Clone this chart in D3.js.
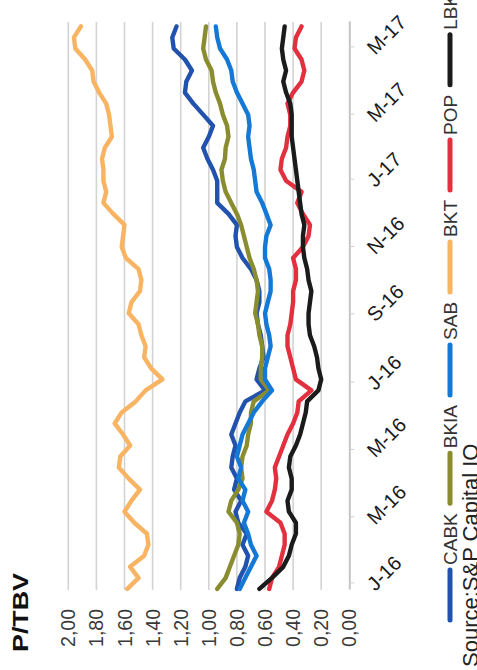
<!DOCTYPE html>
<html>
<head>
<meta charset="utf-8">
<script src="https://cdn.jsdelivr.net/npm/d3@7"></script>
<style>
    body { margin: 0; background: #fff; }
    svg { display: block; }
    text { font-family: "Liberation Sans", Arial, sans-serif; }
</style>
</head>
<body>
<script>
// Sample dates (about every 10 days), Dec 2015 - May 2017
var dates = ["2015-12-27", "2016-01-06", "2016-01-16", "2016-01-26", "2016-02-05", "2016-02-15", "2016-02-25",
    "2016-03-06", "2016-03-16", "2016-03-26", "2016-04-05", "2016-04-15", "2016-04-25", "2016-05-05", "2016-05-15",
    "2016-05-25", "2016-06-04", "2016-06-14", "2016-06-24", "2016-07-04", "2016-07-14", "2016-07-24", "2016-08-03",
    "2016-08-13", "2016-08-23", "2016-09-02", "2016-09-12", "2016-09-22", "2016-10-02", "2016-10-12", "2016-10-22",
    "2016-11-01", "2016-11-11", "2016-11-21", "2016-12-01", "2016-12-11", "2016-12-21", "2016-12-31", "2017-01-10",
    "2017-01-20", "2017-01-30", "2017-02-09", "2017-02-19", "2017-03-01", "2017-03-11", "2017-03-21", "2017-03-31",
    "2017-04-10", "2017-04-20", "2017-04-30", "2017-05-10", "2017-05-20"];

// P/TBV per bank
var cabk = [0.80, 0.78, 0.74, 0.72, 0.76, 0.73, 0.79, 0.81, 0.77, 0.82, 0.80, 0.84, 0.83, 0.81, 0.84, 0.81, 0.78,
    0.74, 0.60, 0.66, 0.64, 0.61, 0.62, 0.63, 0.65, 0.66, 0.64, 0.64, 0.66, 0.70, 0.76, 0.80, 0.81, 0.80, 0.86,
    0.94, 0.94, 0.94, 0.97, 1.01, 1.04, 1.00, 0.97, 1.04, 1.11, 1.17, 1.16, 1.12, 1.17, 1.25, 1.26, 1.23];
var bkia = [0.94, 0.88, 0.85, 0.82, 0.79, 0.78, 0.80, 0.86, 0.84, 0.79, 0.76, 0.77, 0.76, 0.73, 0.72, 0.70, 0.70,
    0.68, 0.57, 0.63, 0.63, 0.62, 0.62, 0.64, 0.65, 0.67, 0.66, 0.65, 0.66, 0.68, 0.71, 0.73, 0.75, 0.77, 0.80,
    0.84, 0.88, 0.90, 0.91, 0.885, 0.88, 0.86, 0.87, 0.90, 0.92, 0.95, 0.97, 0.98, 1.02, 1.04, 1.03, 1.02];
var sab = [0.78, 0.74, 0.70, 0.66, 0.70, 0.72, 0.75, 0.72, 0.76, 0.74, 0.79, 0.77, 0.80, 0.78, 0.76, 0.72, 0.68,
    0.62, 0.55, 0.60, 0.60, 0.58, 0.56, 0.57, 0.59, 0.60, 0.58, 0.56, 0.56, 0.57, 0.60, 0.60, 0.59, 0.56, 0.59,
    0.62, 0.66, 0.67, 0.68, 0.70, 0.71, 0.72, 0.71, 0.72, 0.76, 0.80, 0.83, 0.84, 0.87, 0.92, 0.94, 0.95];
var bkt = [1.58, 1.50, 1.56, 1.46, 1.43, 1.44, 1.53, 1.60, 1.55, 1.49, 1.57, 1.64, 1.63, 1.56, 1.61, 1.67, 1.62,
    1.52, 1.45, 1.33, 1.41, 1.46, 1.45, 1.48, 1.50, 1.57, 1.55, 1.49, 1.48, 1.50, 1.59, 1.62, 1.61, 1.60, 1.68,
    1.75, 1.73, 1.75, 1.75, 1.76, 1.74, 1.69, 1.70, 1.71, 1.73, 1.78, 1.82, 1.83, 1.88, 1.95, 1.96, 1.91];
var pop = [0.57, 0.55, 0.50, 0.48, 0.46, 0.46, 0.49, 0.59, 0.55, 0.53, 0.52, 0.53, 0.50, 0.47, 0.44, 0.40, 0.37,
    0.36, 0.27, 0.38, 0.40, 0.42, 0.44, 0.44, 0.42, 0.41, 0.40, 0.40, 0.38, 0.38, 0.40, 0.33, 0.29, 0.28, 0.33,
    0.37, 0.34, 0.45, 0.49, 0.48, 0.45, 0.44, 0.42, 0.42, 0.44, 0.40, 0.34, 0.32, 0.34, 0.39, 0.38, 0.34];
var lbk = [0.64, 0.55, 0.47, 0.43, 0.41, 0.38, 0.38, 0.43, 0.44, 0.41, 0.41, 0.43, 0.42, 0.38, 0.35, 0.33, 0.31,
    0.30, 0.22, 0.20, 0.22, 0.23, 0.25, 0.28, 0.29, 0.29, 0.28, 0.27, 0.29, 0.30, 0.32, 0.33, 0.33, 0.32, 0.34,
    0.35, 0.36, 0.37, 0.38, 0.39, 0.40, 0.41, 0.41, 0.41, 0.42, 0.45, 0.47, 0.45, 0.47, 0.48, 0.47, 0.46];

var seriesNames = ["CABK", "BKIA", "SAB", "BKT", "POP", "LBK"];
var seriesValues = [cabk, bkia, sab, bkt, pop, lbk];
var seriesColors = ["#2152ad", "#8a8d2f", "#1479d6", "#f8b462", "#e2303e", "#1b1b1b"];

var valueTicks = [0, 0.2, 0.4, 0.6, 0.8, 1.0, 1.2, 1.4, 1.6, 1.8, 2.0];

// The chart is drawn in a normal 670 x 477 frame and then turned on its side
var W = 670, H = 477;
var svg = d3.select("body").append("svg")
    .attr("width", H)
    .attr("height", W);
var g = svg.append("g")
    .attr("transform", "translate(0," + W + ") rotate(-90)");

var parse = d3.timeParse("%Y-%m-%d");
var x = d3.scaleTime()
    .domain([parse("2015-12-26"), parse("2017-05-24")])
    .range([80, 648]);
var y = d3.scaleLinear()
    .domain([0, 2])
    .range([349.3, 68.3]);

var comma = d3.formatLocale({decimal: ",", thousands: ".", grouping: [3], currency: ["", "€"]}).format(".2f");

// gridlines
g.append("g").selectAll("line")
    .data(valueTicks.filter(function (d) { return d > 0; }))
    .enter().append("line")
    .attr("x1", x.range()[0])
    .attr("x2", x.range()[1])
    .attr("y1", function (d) { return y(d); })
    .attr("y2", function (d) { return y(d); })
    .attr("stroke", "#d3d3d3")
    .attr("stroke-width", 1.6);

// value labels
g.append("g").selectAll("text")
    .data(valueTicks)
    .enter().append("text")
    .attr("x", 61)
    .attr("y", function (d) { return y(d); })
    .attr("dy", "0.36em")
    .attr("text-anchor", "end")
    .attr("font-size", 19.5)
    .attr("fill", "#3a3a3a")
    .text(function (d) { return comma(d); });

// time axis
var monthTicks = d3.timeMonth.every(2).range(parse("2016-01-01"), parse("2017-06-01"));
var xAxis = d3.axisBottom(x)
    .tickValues(monthTicks)
    .tickSize(5)
    .tickSizeOuter(0)
    .tickFormat(function (d) {
        return d3.timeFormat("%b")(d).charAt(0) + "-" + d3.timeFormat("%y")(d);
    });
var axisG = g.append("g")
    .attr("transform", "translate(0," + y(0) + ")")
    .call(xAxis);
axisG.select(".domain").attr("stroke", "#c4c4c4").attr("stroke-width", 2);
axisG.selectAll(".tick line").attr("stroke", "#cfcfcf").attr("stroke-width", 1);
axisG.selectAll(".tick text")
    .attr("x", 0)
    .attr("y", 0)
    .attr("dy", 0)
    .attr("transform", "translate(-9,26) rotate(45)")
    .attr("text-anchor", "start")
    .attr("font-size", 20)
    .attr("font-family", "'Liberation Sans', Arial, sans-serif")
    .attr("fill", "#1a1a1a");

// lines
var line = d3.line()
    .x(function (d) { return x(d.date); })
    .y(function (d) { return y(d.value); });

seriesNames.forEach(function (name, i) {
    var pts = dates.map(function (dt, j) {
        return {date: parse(dt), value: seriesValues[i][j]};
    });
    g.append("path")
        .datum(pts)
        .attr("d", line)
        .attr("fill", "none")
        .attr("stroke", seriesColors[i])
        .attr("stroke-width", 4.4)
        .attr("stroke-linejoin", "round")
        .attr("stroke-linecap", "round");
});

// title
g.append("text")
    .attr("x", 18)
    .attr("y", 28)
    .attr("font-size", 21.5)
    .attr("font-weight", "bold")
    .attr("fill", "#111")
    .attr("textLength", 79)
    .attr("lengthAdjust", "spacingAndGlyphs")
    .text("P/TBV");

// legend
var legend = g.append("g").attr("transform", "translate(0,450)");
var lx = 50;
seriesNames.forEach(function (name, i) {
    legend.append("line")
        .attr("x1", lx)
        .attr("x2", lx + 50)
        .attr("y1", 0)
        .attr("y2", 0)
        .attr("stroke", seriesColors[i])
        .attr("stroke-width", 5)
        .attr("stroke-linecap", "round");
    var t = legend.append("text")
        .attr("x", lx + 55)
        .attr("y", 0)
        .attr("dy", "0.36em")
        .attr("font-size", 19)
        .attr("fill", "#333")
        .text(name);
    lx = lx + 55 + t.node().getComputedTextLength() + 10;
});

// source
g.append("text")
    .attr("x", 3)
    .attr("y", 478)
    .attr("font-size", 22)
    .attr("fill", "#222")
    .text("Source:S&P Capital IQ");
</script>
</body>
</html>
